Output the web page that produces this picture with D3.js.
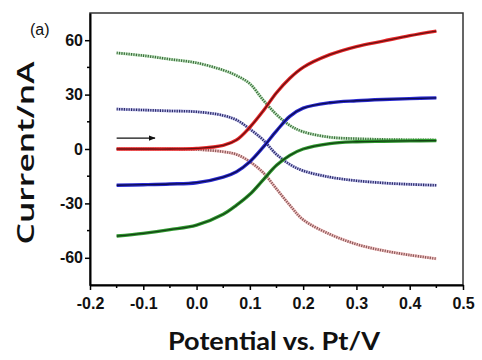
<!DOCTYPE html>
<html>
<head>
<meta charset="utf-8">
<script src="https://cdn.jsdelivr.net/npm/d3@7"></script>
<style>
  body { margin: 0; background: #fff; }
  svg { display: block; }
</style>
</head>
<body>
<svg id="chart" width="482" height="360"></svg>
<script>
// potential (V vs Pt) sampled along each sweep
var potential = [-0.15, -0.1, -0.05, 0, 0.05, 0.075, 0.1, 0.125, 0.15, 0.175, 0.2, 0.25, 0.3, 0.35, 0.4, 0.45];

// solid sweeps (nA)
var redSolid   = [0, 0, 0, 0.3, 2, 5, 12, 21, 31, 39, 45, 52, 56.5, 59.5, 62.5, 65];
var blueSolid  = [-20, -19.7, -19.3, -18.6, -15.5, -12.5, -7, 1, 10, 18, 22.5, 25.5, 26.6, 27.3, 27.8, 28.2];
var greenSolid = [-48, -46.5, -44.5, -42, -36, -31, -25, -17, -9, -3.5, 0, 3, 4, 4.3, 4.5, 4.6];

// dotted sweeps (nA)
var greenDot = [53, 51.5, 49.5, 47.5, 43.5, 40.5, 36, 27, 19, 13, 9.5, 6.5, 5.7, 5.3, 5.1, 5];
var blueDot  = [22, 21.5, 21, 20.5, 18.5, 16, 11, 5, -3, -8.5, -12, -15.5, -17.5, -18.7, -19.5, -20];
var redDot   = [0, 0, 0, -0.3, -1.5, -3, -7, -13, -22, -31, -39, -47, -52.5, -56, -58.5, -60.5];

var xTicks = [-0.2, -0.1, 0.0, 0.1, 0.2, 0.3, 0.4, 0.5];
var yTicks = [-60, -30, 0, 30, 60];

var svg = d3.select("#chart");
var pLeft = 90, pRight = 463, pTop = 13, pBottom = 285;

var x = d3.scaleLinear().domain([-0.2, 0.5]).range([pLeft, pRight]);
var y = d3.scaleLinear().domain([-75, 75]).range([pBottom, pTop]);

// frame top / right
svg.append("rect")
  .attr("x", pLeft).attr("y", pTop)
  .attr("width", pRight - pLeft).attr("height", pBottom - pTop)
  .attr("fill", "none")
  .attr("stroke", "#333")
  .attr("stroke-width", 1.5);

var line = d3.line()
  .x(function(d){ return x(d[0]); })
  .y(function(d){ return y(d[1]); })
  .curve(d3.curveCatmullRom.alpha(0.5));

function pts(vals) {
  return potential.map(function(p, i){ return [p, vals[i]]; });
}

var g = svg.append("g");

function dotted(vals, light, dark) {
  g.append("path").attr("d", line(pts(vals)))
    .attr("fill", "none").attr("stroke", light)
    .attr("stroke-width", 3).attr("opacity", 0.6);
  g.append("path").attr("d", line(pts(vals)))
    .attr("fill", "none").attr("stroke", dark)
    .attr("stroke-width", 2.6)
    .attr("stroke-dasharray", "1.2,1.2");
}

function solid(vals, light, dark) {
  g.append("path").attr("d", line(pts(vals)))
    .attr("fill", "none").attr("stroke", light)
    .attr("stroke-width", 3.4);
  g.append("path").attr("d", line(pts(vals)))
    .attr("fill", "none").attr("stroke", dark)
    .attr("stroke-width", 1.3);
}

dotted(greenDot, "#9fd89f", "#3d6e3d");
dotted(blueDot, "#9a9ae0", "#2a2a6a");
dotted(redDot, "#f0a0a0", "#8a5a5a");
solid(redSolid, "#e8282a", "#6a1010");
solid(blueSolid, "#2a2ad0", "#0c0c50");
solid(greenSolid, "#2f9a2f", "#154015");

// sweep direction arrow
svg.append("defs").append("marker")
  .attr("id", "head")
  .attr("viewBox", "0 0 10 10")
  .attr("refX", 9).attr("refY", 5)
  .attr("markerWidth", 7).attr("markerHeight", 7)
  .attr("markerUnits", "userSpaceOnUse")
  .attr("orient", "auto")
  .append("path").attr("d", "M0,1 L10,5 L0,9 Z").attr("fill", "#111");

svg.append("line")
  .attr("x1", x(-0.15)).attr("y1", y(6))
  .attr("x2", x(-0.078)).attr("y2", y(6))
  .attr("stroke", "#111").attr("stroke-width", 1.3)
  .attr("marker-end", "url(#head)");

// axes
var xAxis = svg.append("g").attr("transform", "translate(0," + pBottom + ")")
  .call(d3.axisBottom(x).tickValues(xTicks).tickFormat(function(d){ return d.toFixed(1); }).tickSize(5).tickSizeOuter(0));
var yAxis = svg.append("g").attr("transform", "translate(" + pLeft + ",0)")
  .call(d3.axisLeft(y).tickValues(yTicks).tickFormat(function(d){ return String(d); }).tickSize(5).tickSizeOuter(0));

// minor ticks
svg.append("g").selectAll("line")
  .data(d3.range(-0.15, 0.5, 0.1)).enter().append("line")
  .attr("x1", function(d){ return x(d); }).attr("x2", function(d){ return x(d); })
  .attr("y1", pBottom).attr("y2", pBottom + 3)
  .attr("stroke", "#000").attr("stroke-width", 1.5);
svg.append("g").selectAll("line")
  .data([-45, -15, 15, 45]).enter().append("line")
  .attr("x1", pLeft - 3).attr("x2", pLeft)
  .attr("y1", function(d){ return y(d); }).attr("y2", function(d){ return y(d); })
  .attr("stroke", "#000").attr("stroke-width", 1.5);

[xAxis, yAxis].forEach(function(a){
  a.select(".domain").attr("stroke", "#000").attr("stroke-width", 2);
  a.selectAll(".tick line").attr("stroke", "#000").attr("stroke-width", 1.5);
  a.selectAll(".tick text")
    .attr("font-family", "Liberation Sans, Arial, sans-serif")
    .attr("font-weight", "bold")
    .attr("font-size", 16)
    .attr("fill", "#111");
});
xAxis.selectAll(".tick text").attr("dy", "1.0em");
yAxis.selectAll(".tick text").attr("x", -7);

// titles
svg.append("text")
  .attr("x", 274).attr("y", 350)
  .attr("text-anchor", "middle")
  .attr("font-family", "Lato, Open Sans, sans-serif")
  .attr("font-weight", "bold")
  .attr("font-size", 24)
  .attr("textLength", 212).attr("lengthAdjust", "spacingAndGlyphs")
  .attr("fill", "#111")
  .text("Potential vs. Pt/V");

svg.append("text")
  .attr("transform", "translate(34,153) rotate(-90)")
  .attr("text-anchor", "middle")
  .attr("font-family", "Open Sans, Lato, sans-serif")
  .attr("font-weight", 600)
  .attr("font-size", 24)
  .attr("textLength", 183).attr("lengthAdjust", "spacingAndGlyphs")
  .attr("fill", "#111")
  .text("Current/nA");

svg.append("text")
  .attr("x", 30).attr("y", 35)
  .attr("font-family", "Liberation Sans, Arial, sans-serif")
  .attr("font-size", 16)
  .attr("fill", "#111")
  .text("(a)");
</script>
</body>
</html>
